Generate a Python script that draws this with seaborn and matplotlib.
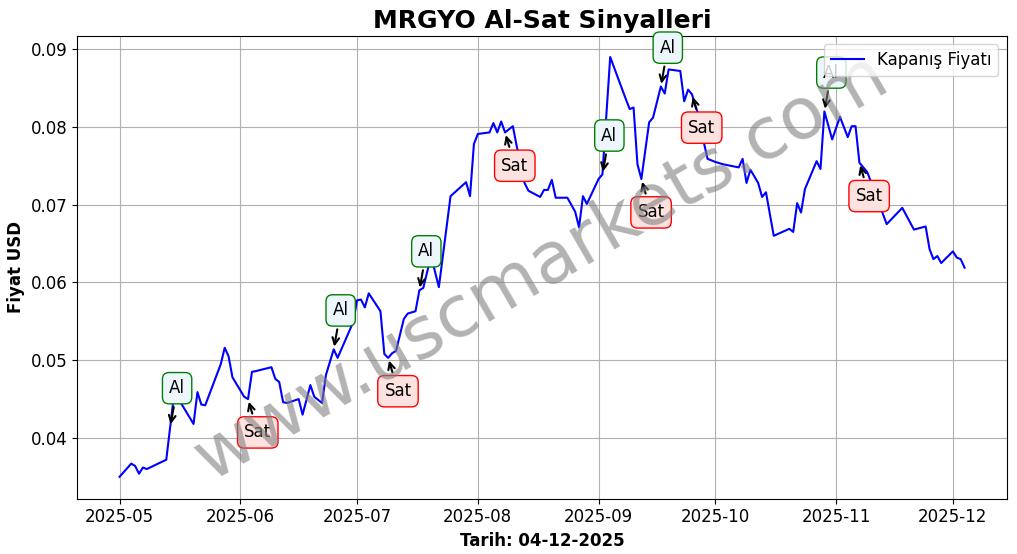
import matplotlib
matplotlib.use("Agg")
import matplotlib.pyplot as plt
import matplotlib.dates as mdates
import seaborn as sns
import pandas as pd

days = [0,3,4,5,6,7,12,13,14,16,19,20,21,22,25,26,27,28,29,32,33,34,35,39,40,41,42,43,46,47,49,50,52,53,55,56,60,61,62,63,64,67,68,69,70,71,73,74,76,77,78,80,82,85,89,90,91,92,95,96,97,98,99,101,102,104,105,108,109,110,111,112,115,117,118,119,120,123,124,126,130,131,132,133,134,136,137,139,140,141,144,145,146,147,148,149,150,151,153,155,159,160,161,162,164,165,166,168,172,173,174,175,176,179,180,181,183,185,187,188,189,190,192,193,197,201,204,207,208,209,210,211,214,215,216,217]
prices = [0.0350,0.0367,0.0364,0.0354,0.0362,0.0360,0.0372,0.0414,0.0456,0.0443,0.0418,0.0459,0.0443,0.0442,0.0482,0.0495,0.0516,0.0505,0.0478,0.0453,0.0450,0.0485,0.0486,0.0491,0.0476,0.0472,0.0446,0.0445,0.0450,0.0430,0.0468,0.0453,0.0445,0.0481,0.0514,0.0503,0.0549,0.0577,0.0578,0.0568,0.0586,0.0563,0.0508,0.0503,0.0509,0.0512,0.0553,0.0560,0.0563,0.0590,0.0593,0.0634,0.0594,0.0711,0.0729,0.0711,0.0778,0.0791,0.0793,0.0805,0.0793,0.0807,0.0793,0.0801,0.0775,0.0728,0.0718,0.0710,0.0719,0.0719,0.0732,0.0709,0.0709,0.0691,0.0671,0.0711,0.0701,0.0733,0.0739,0.0890,0.0836,0.0823,0.0825,0.0752,0.0733,0.0806,0.0812,0.0852,0.0843,0.0874,0.0872,0.0833,0.0848,0.0842,0.0825,0.0812,0.0781,0.0759,0.0755,0.0752,0.0748,0.0759,0.0728,0.0745,0.0728,0.0710,0.0716,0.0660,0.0669,0.0665,0.0702,0.0690,0.0720,0.0756,0.0746,0.0820,0.0784,0.0813,0.0787,0.0801,0.0801,0.0754,0.0742,0.0729,0.0675,0.0696,0.0668,0.0672,0.0643,0.0630,0.0634,0.0625,0.0640,0.0632,0.0630,0.0619]
buy_days = [13,55,77,124,139,181]
sell_days = [33,69,99,134,147,190]

start = pd.Timestamp("2025-05-01")
df = pd.DataFrame({"Tarih": start + pd.to_timedelta(days, unit="D"), "Fiyat": prices})
lookup = dict(zip(days, prices))

fig, ax = plt.subplots(figsize=(10.17, 5.54), dpi=100)
sns.lineplot(data=df, x="Tarih", y="Fiyat", color="blue", label="Kapanış Fiyatı", ax=ax, linewidth=1.5)

for d in buy_days:
    ax.annotate("Al", xy=(start + pd.Timedelta(days=d), lookup[d]), xytext=(5, 28), textcoords="offset points",
                ha="center", va="center", fontsize=12,
                bbox=dict(boxstyle="round,pad=0.4", fc="#eef6fd", ec="green"),
                arrowprops=dict(arrowstyle="->", color="black", lw=1.5))
for d in sell_days:
    ax.annotate("Sat", xy=(start + pd.Timedelta(days=d), lookup[d]), xytext=(7, -24), textcoords="offset points",
                ha="center", va="center", fontsize=12,
                bbox=dict(boxstyle="round,pad=0.4", fc="#fde2e0", ec="red"),
                arrowprops=dict(arrowstyle="->", color="black", lw=1.5))

ax.text(0.5, 0.5, "www.uscmarkets.com", transform=ax.transAxes, fontsize=52, color="gray",
        alpha=0.6, rotation=30, ha="center", va="center")
ax.set_title("MRGYO Al-Sat Sinyalleri", fontsize=18, fontweight="bold")
ax.set_xlabel("Tarih: 04-12-2025", fontsize=12, fontweight="bold")
ax.set_ylabel("Fiyat USD", fontsize=12, fontweight="bold")
ax.tick_params(labelsize=12)
ax.grid(True, color="#b0b0b0")
ax.legend(loc="upper right", fontsize=12)
ax.xaxis.set_major_locator(mdates.MonthLocator())
ax.xaxis.set_major_formatter(mdates.DateFormatter("%Y-%m"))
ax.set_ylim(0.0322, 0.0917)
fig.subplots_adjust(left=0.076, right=0.99, top=0.935, bottom=0.10)
fig.savefig("out.png", dpi=100)
